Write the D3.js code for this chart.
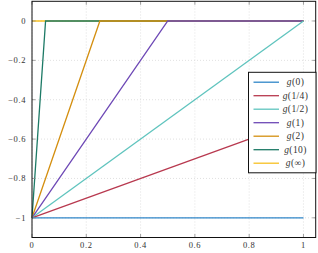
<!DOCTYPE html>
<html>
<head>
<meta charset="utf-8">
<script src="https://cdn.jsdelivr.net/npm/d3@7"></script>
<style>
  body { margin: 0; background: #fff; }
  svg text { font-family: "Liberation Serif", "DejaVu Serif", serif; }
</style>
</head>
<body>
<div id="chart"></div>
<script>
// series names and colours (legend order)
var names = ["g(0)", "g(1/4)", "g(1/2)", "g(1)", "g(2)", "g(10)", "g(\u221E)"]
var colors = ["#2f86c8", "#b8394f", "#5fc4be", "#6e49b6", "#d48f10", "#1d7a66", "#f7c022"]

// points of each curve
var xs = [
  [0, 1],
  [0, 1],
  [0, 1],
  [0, 0.5, 1],
  [0, 0.25, 1],
  [0, 0.05, 1],
  [0, 1]
]
var ys = [
  [-1, -1],
  [-1, -0.5],
  [-1, 0],
  [-1, 0, 0],
  [-1, 0, 0],
  [-1, 0, 0],
  [0, 0]
]

var xTicks = [0, 0.2, 0.4, 0.6, 0.8, 1]
var yTicks = [-1, -0.8, -0.6, -0.4, -0.2, 0]

var width = 318
var height = 253

var svg = d3.select("#chart").append("svg")
  .attr("width", width)
  .attr("height", height)

var x = d3.scaleLinear().domain([0, 1.045]).range([32, 315.7])
var y = d3.scaleLinear().domain([-1.1, 0.1]).range([237.5, 1.3])

var fmt = function(v){ return v == 0 ? "0" : (v == 1 || v == -1) ? d3.format("")(v).replace("-", "\u2212") : d3.format(".1f")(v).replace("-", "\u2212") }

// grid
svg.append("g").selectAll("line").data(xTicks).enter().append("line")
  .attr("x1", d => x(d)).attr("x2", d => x(d))
  .attr("y1", y.range()[0]).attr("y2", y.range()[1])
  .style("stroke", "#d9d9d9").style("stroke-dasharray", "1,2").style("stroke-width", 0.8)
svg.append("g").selectAll("line").data(yTicks).enter().append("line")
  .attr("y1", d => y(d)).attr("y2", d => y(d))
  .attr("x1", x.range()[0]).attr("x2", x.range()[1])
  .style("stroke", "#d9d9d9").style("stroke-dasharray", "1,2").style("stroke-width", 0.8)

// curves, drawn last-to-first so g(0) ends up on top
var line = d3.line().x(d => x(d[0])).y(d => y(d[1]))
var order = d3.range(names.length).reverse()
svg.append("g").selectAll("path").data(order).enter().append("path")
  .attr("d", i => line(d3.zip(xs[i], ys[i])))
  .style("fill", "none")
  .style("stroke", i => colors[i])
  .style("stroke-width", 1.3)

// ticks on all four sides (inside)
var tk = svg.append("g").style("stroke", "#8a8a8a").style("stroke-width", 0.8)
xTicks.forEach(function(t){
  tk.append("line").attr("x1", x(t)).attr("x2", x(t)).attr("y1", y.range()[0]).attr("y2", y.range()[0] - 3.5)
  tk.append("line").attr("x1", x(t)).attr("x2", x(t)).attr("y1", y.range()[1]).attr("y2", y.range()[1] + 3.5)
})
yTicks.forEach(function(t){
  tk.append("line").attr("y1", y(t)).attr("y2", y(t)).attr("x1", x.range()[0]).attr("x2", x.range()[0] + 3.5)
  tk.append("line").attr("y1", y(t)).attr("y2", y(t)).attr("x1", x.range()[1]).attr("x2", x.range()[1] - 3.5)
})

// frame
svg.append("rect")
  .attr("x", x.range()[0]).attr("y", y.range()[1])
  .attr("width", x.range()[1] - x.range()[0])
  .attr("height", y.range()[0] - y.range()[1])
  .style("fill", "none").style("stroke", "#111").style("stroke-width", 1)

// tick labels
svg.append("g").selectAll("text").data(xTicks).enter().append("text")
  .attr("x", d => x(d)).attr("y", 248)
  .attr("text-anchor", "middle")
  .style("font-size", "8.5px").style("letter-spacing", "0.6px").style("fill", "#333")
  .text(fmt)
svg.append("g").selectAll("text").data(yTicks).enter().append("text")
  .attr("x", 26).attr("y", d => y(d) + 2.8)
  .attr("text-anchor", "end")
  .style("font-size", "8.5px").style("letter-spacing", "0.6px").style("fill", "#333")
  .text(fmt)

// legend
var lg = svg.append("g")
lg.append("rect")
  .attr("x", 248.5).attr("y", 72.3).attr("width", 67.5).attr("height", 100.5)
  .style("fill", "#fff").style("stroke", "#111").style("stroke-width", 1)
var rows = lg.selectAll("g").data(names).enter().append("g")
  .attr("transform", (d, i) => "translate(0," + (82.2 + i * 13.5) + ")")
rows.append("line")
  .attr("x1", 253.5).attr("x2", 279).attr("y1", 0).attr("y2", 0)
  .style("stroke", (d, i) => colors[i]).style("stroke-width", 1.3)
var lt = rows.append("text")
  .attr("x", 295.5).attr("y", 3.2)
  .attr("text-anchor", "middle")
  .style("font-size", "9.5px").style("letter-spacing", "0.4px").style("fill", "#333")
lt.append("tspan").style("font-style", "italic").text(d => d.slice(0, 1))
lt.append("tspan").text(d => d.slice(1))
</script>
</body>
</html>
